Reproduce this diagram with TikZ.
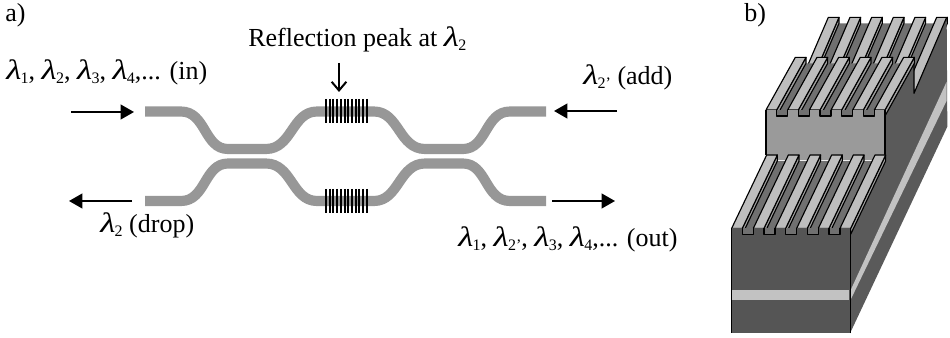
\documentclass[tikz,border=0pt]{standalone}
\usepackage{fontspec}
\setmainfont{Liberation Serif}
\usetikzlibrary{arrows.meta}
\newcommand{\lam}[1]{\scalebox{1.34}[1.08]{\textit{λ}}\hspace{-0.5pt}\raisebox{-0.3ex}{\fontsize{12}{13}\selectfont #1}}
\tikzset{
  guide/.style={line width=7.6pt,draw=guidegray},
  bars/.style={line width=1.5pt,draw=black},
  flow/.style={line width=1.5pt,-{Triangle[length=10pt,width=11pt]}},
  lab/.style={anchor=base west,inner sep=0pt,font=\fontsize{19.5}{21}\selectfont},
  tooth/.style={fill=toplight,draw=black,line width=.85pt,line join=round},
  wallp/.style={fill=wallgray,draw=black,line width=.85pt,line join=round},
  edgeline/.style={black,line width=.85pt,line join=round}
}
\definecolor{guidegray}{HTML}{979797}
\definecolor{floorgray}{HTML}{707070}
\definecolor{toplight}{HTML}{BEBEBE}
\definecolor{wallgray}{HTML}{A0A0A0}
\definecolor{sidegray}{HTML}{5A5A5A}
\definecolor{frontgray}{HTML}{555555}
\definecolor{stepgray}{HTML}{9A9A9A}
\definecolor{bandgray}{HTML}{C2C2C2}
% comb: #1 x of rightmost tooth left edge, #2 front y, #3 shift x, #4 shift y, #5 last k
\newcommand{\combsec}[5]{%
  \fill[floorgray] ({#1+32},{#2+18}) -- ({#1+32+#3},{#2+18+#4}) -- ({#1-65*#5+#3},{#2+18+#4}) -- ({#1-65*#5},{#2+18}) -- cycle;
  \foreach \k in {0,...,#5}{
    \pgfmathsetmacro{\xa}{#1-65*\k}
    \pgfmathsetmacro{\xb}{\xa+32}
    \draw[wallp] (\xb,#2) -- (\xb,{#2+18}) -- ({\xb+#3},{#2+18+#4}) -- ({\xb+#3},{#2+#4}) -- cycle;
    \draw[tooth] (\xa,#2) -- (\xb,#2) -- ({\xb+#3},{#2+#4}) -- ({\xa+#3},{#2+#4}) -- cycle;
  }}
% notches cut into the top of a front face: #1 x of rightmost notch left, #2 y, #3 last k
\newcommand{\notches}[3]{%
  \foreach \k in {0,...,#3}{
    \pgfmathsetmacro{\xa}{#1-65*\k}
    \pgfmathsetmacro{\xb}{\xa+33}
    \fill[floorgray] (\xa,{#2-1}) rectangle (\xb,{#2+18});
    \draw[edgeline] (\xa,#2) -- (\xa,{#2+18}) -- (\xb,{#2+18}) -- (\xb,#2);
  }}
\begin{document}
\begin{tikzpicture}[x=0.75pt,y=-0.75pt]
\useasboundingbox (0,0) rectangle (950,338);
% a) waveguides
\foreach \ya/\yb in {111.5/149,201/163.5}{
  \draw[guide] (145,\ya) -- (181,\ya) .. controls (206,\ya) and (204,\yb) .. (228,\yb) -- (266,\yb)
    .. controls (292,\yb) and (292,\ya) .. (317,\ya) -- (374,\ya)
    .. controls (399,\ya) and (399,\yb) .. (425,\yb) -- (463,\yb)
    .. controls (487,\yb) and (485,\ya) .. (510,\ya) -- (546,\ya);
}
\foreach \yc in {111,201}{
  \foreach \i in {0,...,11}{
    \draw[bars] ({326+\i*3.72},\yc-12) -- ({326+\i*3.72},\yc+12);
  }
}
% arrows
\coordinate (inA) at (71,112); \coordinate (inB) at (134,112);
\coordinate (addA) at (617,111); \coordinate (addB) at (554,111);
\coordinate (dropA) at (132,201); \coordinate (dropB) at (69,201);
\coordinate (outA) at (552,201); \coordinate (outB) at (615,201);
\coordinate (peakA) at (339,63); \coordinate (peakB) at (339,92);
\draw[flow] (inA) -- (inB);
\draw[flow] (addA) -- (addB);
\draw[flow] (dropA) -- (dropB);
\draw[flow] (outA) -- (outB);
\draw[line width=1.5pt,-{Straight Barb[length=6.5pt,width=11pt]}] (peakA) -- (peakB);
% labels
\node[lab] (la) at (5,22) {a)};
\node[lab] (lb) at (744,22) {b)};
\node[lab] (lpeak) at (248,47) {Reflection peak at \lam{2}};
\node[lab] (lin) at (6,80) {\lam{1}, \lam{2}, \lam{3}, \lam{4},... (in)};
\node[lab] (ladd) at (583,85) {\lam{2'} (add)};
\node[lab] (ldrop) at (100,233) {\lam{2} (drop)};
\node[lab] (lout) at (458,247) {\lam{1}, \lam{2'}, \lam{3}, \lam{4},... (out)};
% b) device
\begin{scope}[shift={(740,0)},x=0.25pt,y=-0.25pt]
  \combsec{590}{52}{-100}{233}{5}
  \fill[sidegray] (435,330) -- (522,172) -- (522,280) -- (620,52) -- (622,380) -- (330,1000) -- (330,690) -- (435,465) -- cycle;
  \draw[edgeline] (522,172) -- (522,280) -- (620,52);
  \fill[bandgray] (333,868) -- (620,245) -- (620,302) -- (333,897) -- cycle;
  \combsec{403}{330}{88}{-158}{5}
  \fill[stepgray] (78,330) rectangle (435,480);
  \notches{370}{330}{4}
  \draw[edgeline] (78,330) -- (78,465) (435,330) -- (435,465);
  \combsec{300}{685}{105}{-220}{5}
  \fill[frontgray] (-25,685) rectangle (332,1000);
  \notches{267}{685}{4}
  \fill[bandgray] (-25,870) rectangle (328,899);
  \draw[edgeline] (331,685) -- (331,1000) (-25,685) -- (-25,1000);
\end{scope}
\end{tikzpicture}
\end{document}
